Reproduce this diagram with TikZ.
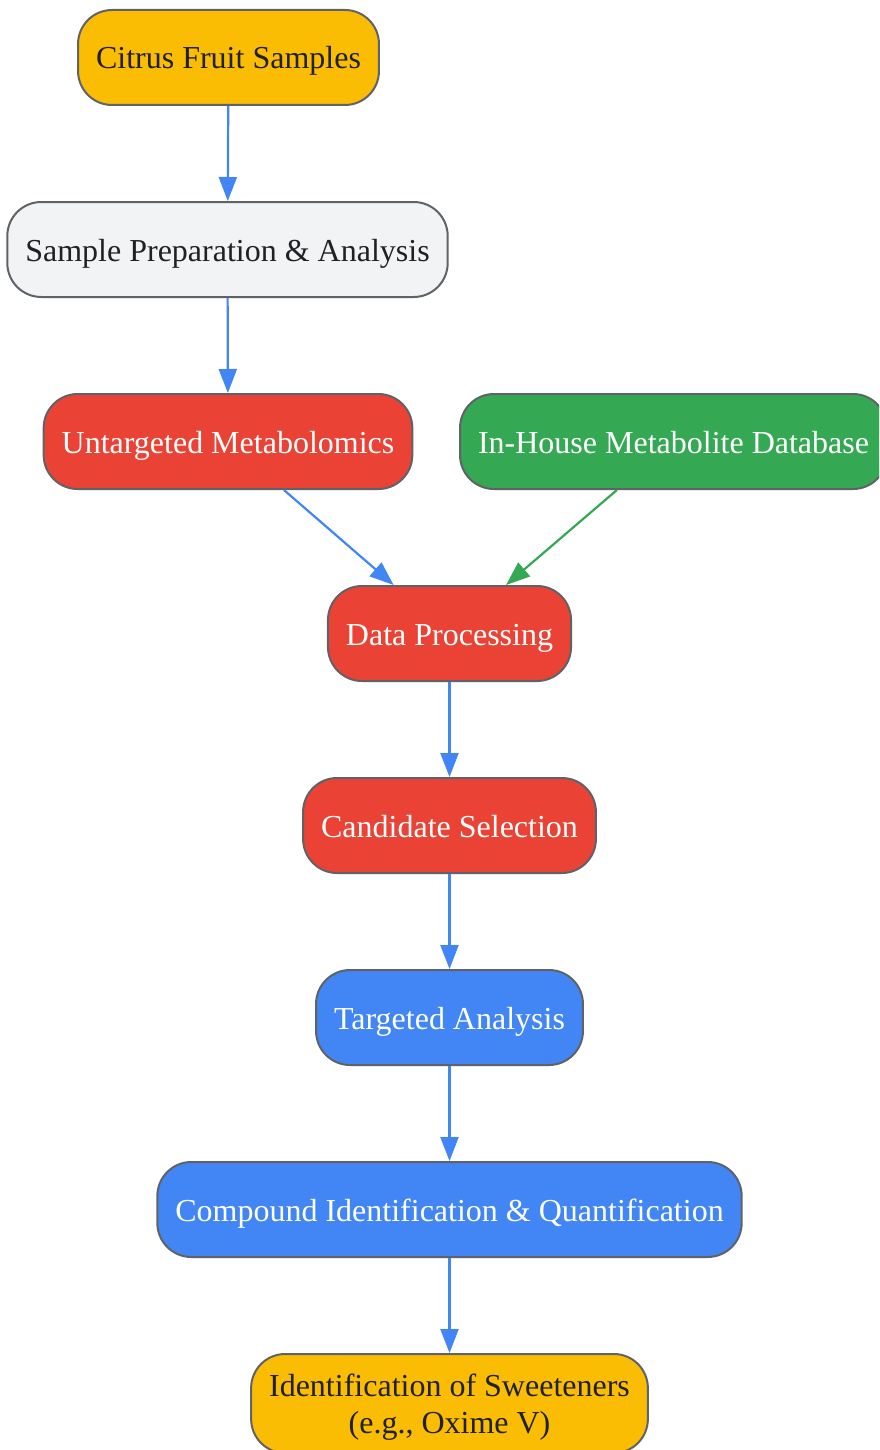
\documentclass[tikz,border=0pt]{standalone}
\usepackage{fontspec}
\setmainfont{Liberation Serif}
\usetikzlibrary{arrows.meta}
\definecolor{gyellow}{HTML}{FBBC04}
\definecolor{ggray}{HTML}{F1F3F4}
\definecolor{gred}{HTML}{EA4335}
\definecolor{ggreen}{HTML}{34A853}
\definecolor{gblue}{HTML}{4285F4}
\definecolor{gborder}{HTML}{5F6368}
\definecolor{gtext}{HTML}{202124}
\tikzset{
  box/.style={draw=gborder, line width=1pt, rounded corners=17pt, minimum height=47.5pt,
    inner xsep=9pt, inner ysep=4pt, align=center, text height=14.5pt, text depth=3pt,
    font=\fontsize{16}{18.5}\selectfont},
  darkbox/.style={box, text=gtext},
  lightbox/.style={box, text=white},
  flow/.style={line width=1.1pt, draw=gblue, -{Triangle[length=12pt,width=9pt,fill=gblue]}},
  gflow/.style={line width=1.1pt, draw=ggreen, -{Triangle[length=12pt,width=9pt,fill=ggreen]}}
}
\begin{document}
\begin{tikzpicture}[x=0.5pt,y=-0.5pt]
\useasboundingbox (0,0) rectangle (879,1450);
\clip (0,0) rectangle (879,1450);
\node[darkbox, fill=gyellow] (citrus) at (228.5,57.5) {Citrus Fruit Samples};
\node[darkbox, fill=ggray] (prep) at (227.5,249.5) {Sample Preparation \& Analysis};
\node[lightbox, fill=gred] (untar) at (228,441.5) {Untargeted Metabolomics};
\node[lightbox, fill=ggreen] (db) at (673.5,441.5) {In-House Metabolite Database};
\node[lightbox, fill=gred] (proc) at (449.5,633.5) {Data Processing};
\node[lightbox, fill=gred] (cand) at (449.5,825.5) {Candidate Selection};
\node[lightbox, fill=gblue] (targ) at (449.5,1017.5) {Targeted Analysis};
\node[lightbox, fill=gblue] (comp) at (449.5,1209.5) {Compound Identification \& Quantification};
\node[darkbox, fill=gyellow, minimum height=49.5pt, text height=33pt, text depth=3pt] (sweet) at (449.5,1403.5) {Identification of Sweeteners\\(e.g., Oxime V)};
\draw[flow] (citrus) -- (prep);
\draw[flow] (prep) -- (untar);
\draw[flow] (untar) -- (proc);
\draw[gflow] (db) -- (proc);
\draw[flow] (proc) -- (cand);
\draw[flow] (cand) -- (targ);
\draw[flow] (targ) -- (comp);
\draw[flow] (comp) -- (sweet);
\end{tikzpicture}
\end{document}
